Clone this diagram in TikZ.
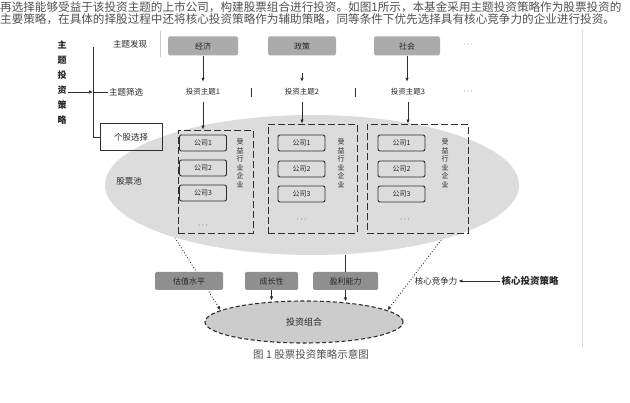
\documentclass[tikz,border=0pt]{standalone}
\usepackage{fontspec}
\newfontfamily\cjk{Noto Sans CJK SC}
\usetikzlibrary{arrows.meta,shapes.geometric,calc}
\pgfdeclarelayer{bg}
\pgfsetlayers{bg,main}
\definecolor{txtgray}{HTML}{505050}
\definecolor{boxgray}{HTML}{ABABAB}
\definecolor{boxdark}{HTML}{8F8F8F}
\definecolor{ellgray}{HTML}{DCDCDC}
\definecolor{ell2gray}{HTML}{CCCCCC}
\definecolor{linegray}{HTML}{2E2E2E}
\tikzset{
  every node/.style={font=\cjk\fontsize{8}{9}\selectfont, text=black!85, inner sep=1pt},
  para/.style={font=\cjk\fontsize{11.6}{12}\selectfont, text=txtgray, inner sep=0pt},
  lbl/.style={font=\cjk\fontsize{8.5}{9}\selectfont},
  itemlbl/.style={font=\cjk\fontsize{7.5}{9}\selectfont, minimum height=20pt, minimum width=44pt},
  topbox/.style={fill=boxgray, rounded corners=1.5pt, minimum height=19pt},
  botbox/.style={fill=boxdark, rounded corners=1.5pt, minimum height=18pt},
  itembox/.style={draw=linegray, line width=0.9pt, rounded corners=2pt, minimum width=47pt, minimum height=16pt, font=\cjk\fontsize{7}{8}\selectfont},
  colbox/.style={draw=linegray, line width=0.8pt, dash pattern=on 7pt off 3pt},
  vtext/.style={align=center, font=\cjk\fontsize{7}{8.5}\selectfont},
  arr/.style={-{Latex[length=4pt,width=3.5pt]}, line width=0.8pt, draw=linegray},
  plain/.style={line width=0.8pt, draw=linegray},
  dotarr/.style={-{Latex[length=4pt,width=3.5pt]}, line width=0.9pt, dotted, draw=linegray},
}
\begin{document}
\begin{tikzpicture}[x=1pt,y=-1pt]
\useasboundingbox (0,0) rectangle (630,403);
% paragraph
\node[para, anchor=base west] (p1) at (0,12) {再选择能够受益于该投资主题的上市公司，构建股票组合进行投资。如图1所示，本基金采用主题投资策略作为股票投资的};
\node[para, anchor=base west] (p2) at (0,24) {主要策略，在具体的择股过程中还将核心投资策略作为辅助策略，同等条件下优先选择具有核心竞争力的企业进行投资。};
% panel edge
\draw[gray!30, line width=0.8pt] (582,30) -- (582,347);

% big ellipse
\node[ellipse, fill=ellgray, minimum width=414pt, minimum height=140pt, inner sep=0pt] (bigE) at (312,185) {};
\node[lbl] (pool) at (129,181) {股票池};

% left structure
\node[align=center, font=\cjk\bfseries\fontsize{9}{15}\selectfont] (vt) at (62,83) {主\\题\\投\\资\\策\\略};
\coordinate (brtop) at (93,47);
\coordinate (brmid) at (93,92);
\coordinate (brbot) at (93,137);
\draw[plain] (brtop) -- (brbot);
\draw[arr] (vt.east |- brmid) -- (brmid);
\node[lbl, minimum width=60pt, minimum height=25pt] (r1) at (130,44) {主题发现};
\draw[gray!40, line width=1pt] (r1.north east) -- (r1.south east);
\node[lbl] (r2) at (126,92) {主题筛选};
\draw[plain] (brmid) -- (r2.west);
\node[lbl, draw=linegray, line width=0.9pt, minimum width=62pt, minimum height=27pt] (r3) at (131,137) {个股选择};
\draw[plain] (brbot) -- (r3.west |- brbot);

% top gray boxes
\node[topbox, minimum width=70pt] (t1) at (203,46) {经济};
\node[topbox, minimum width=68pt] (t2) at (302,46) {政策};
\node[topbox, minimum width=66pt] (t3) at (407,46) {社会};
\node (tdots) at (468,45) {$\cdots$};

% row 2 items
\node[itemlbl] (m1) at (203,92) {投资主题1};
\node[itemlbl] (m2) at (302,92) {投资主题2};
\node[itemlbl] (m3) at (408,92) {投资主题3};
\node (mdots) at (468,92) {$\cdots$};
\draw[plain] (251,88) -- (251,97);
\draw[plain] (355,88) -- (355,97);

% column boxes
\node[colbox, minimum width=75pt, minimum height=103pt] (c1) at (215.5,181.5) {};
\node[colbox, minimum width=89pt, minimum height=109pt] (c2) at (312.5,178.5) {};
\node[colbox, minimum width=101pt, minimum height=109pt] (c3) at (417.5,178.5) {};

% arrows top
\draw[arr] (t1.south) -- (t1.south |- m1.north);
\coordinate (m2a) at (302,73);
\draw[arr] (m2a) -- (m2.north);
\draw[arr] (t3.south) -- (t3.south |- m3.north);
\draw[arr] (m1.south) -- (m1.south |- c1.north);
\draw[arr] (m2.south) -- (m2.south |- c2.north);
\draw[arr] (m3.south) -- (m3.south |- c3.north);

% items col1
\node[itembox] (a1) at (203,143) {公司1};
\node[itembox] (a2) at (203,168) {公司2};
\node[itembox] (a3) at (203,193) {公司3};
\node (adots) at (203,226) {$\cdots$};
\node[vtext] (v1) at (240,163) {受\\益\\行\\业\\企\\业};
% col2
\node[itembox] (b1i) at (301.5,143) {公司1};
\node[itembox] (b2i) at (301.5,169) {公司2};
\node[itembox] (b3i) at (301.5,194) {公司3};
\node (bdots) at (301.5,220) {$\cdots$};
\node[vtext] (v2) at (341,163) {受\\益\\行\\业\\企\\业};
% col3
\node[itembox] (c1i) at (401.5,143) {公司1};
\node[itembox] (c2i) at (401.5,169) {公司2};
\node[itembox] (c3i) at (401.5,194) {公司3};
\node (cdots) at (405,220) {$\cdots$};
\node[vtext] (v3) at (445,163) {受\\益\\行\\业\\企\\业};

% bottom ellipse
\node[ellipse, draw=linegray, line width=1.1pt, dash pattern=on 4pt off 2.5pt, fill=ell2gray, minimum width=198pt, minimum height=42pt, inner sep=0pt, font=\cjk\fontsize{9}{10}\selectfont] (be) at (304,322) {投资组合};

% bottom boxes
\node[botbox, minimum width=68pt] (b1) at (189,281) {估值水平};
\node[botbox, minimum width=53pt] (b2) at (271.5,281) {成长性};
\node[botbox, minimum width=65pt] (b3) at (345.5,281) {盈利能力};
\node[lbl] (bk) at (436,281) {核心竞争力};
\node[font=\cjk\bfseries\fontsize{9.5}{10}\selectfont] (bs) at (530,281) {核心投资策略};
\draw[arr] (bs.west) -- (bk.east);

\draw[plain] (b3.north |- bigE.south) -- (b3.north);
\draw[arr] (b2.south) -- (b2.south |- be.north);
\draw[arr] (b3.south) -- ($(b3.south |- be.north)+(0,1)$);

\begin{pgfonlayer}{bg}
\draw[dotarr] (bigE.201) -- (be.172);
\draw[dotarr] (bigE.337) -- (be.8);
\end{pgfonlayer}

% caption
\node[font=\cjk\fontsize{10.5}{12}\selectfont, text=txtgray] (cap) at (311,354) {图 1 股票投资策略示意图};
\end{tikzpicture}
\end{document}
